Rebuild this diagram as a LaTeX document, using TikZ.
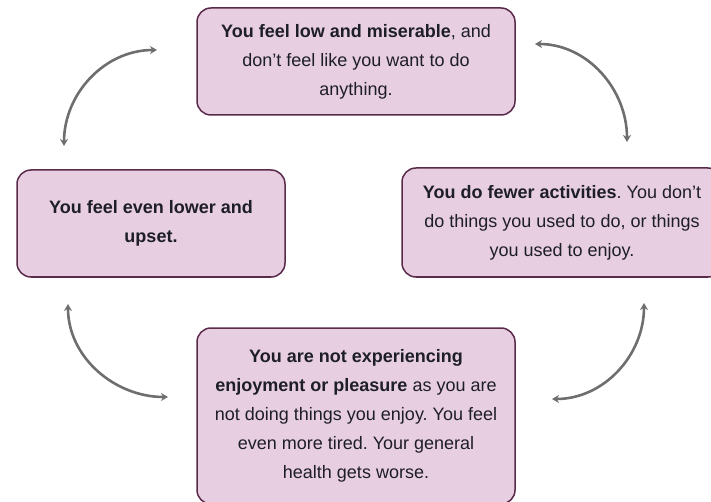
\documentclass[tikz,border=0pt]{standalone}
\usepackage{fontspec}
\setmainfont{Liberation Sans}
\usetikzlibrary{arrows.meta}
\definecolor{boxfill}{HTML}{E7CEE1}
\definecolor{boxline}{HTML}{5A2A4A}
\definecolor{arrowgray}{HTML}{6E6E6E}
\definecolor{ink}{HTML}{1E1E28}
\frenchspacing
\begin{document}
\begin{tikzpicture}[x=1pt,y=-1pt,
  stage/.style={draw=boxline, fill=boxfill, line width=1.5pt, rounded corners=14pt,
    inner sep=0pt, align=center, text=ink,
    font={\fontsize{18}{29}\selectfont}},
  cycle/.style={draw=arrowgray, line width=2.6pt,
    {Stealth[length=7pt,width=8pt]}-{Stealth[length=7pt,width=8pt]}}]
  \useasboundingbox (0,0) rectangle (711,502);
  \clip (0,0) rectangle (711,502);

  % the four stages
  \node[stage, minimum width=318pt, minimum height=107pt] (low) at (356,61.5)
    {\textbf{You feel low and miserable}, and\\don’t feel like you want to do\\anything.};
  \node[stage, minimum width=320pt, minimum height=109pt] (fewer) at (562,222.5)
    {\textbf{You do fewer activities}. You don’t\\do things you used to do, or things\\you used to enjoy.};
  \node[stage, minimum width=318pt, minimum height=176pt] (enjoy) at (356,416)
    {\textbf{You are not experiencing}\\\textbf{enjoyment or pleasure} as you are\\not doing things you enjoy. You feel\\even more tired. Your general\\health gets worse.};
  \node[stage, minimum width=268pt, minimum height=107pt] (lower) at (151,223.5)
    {\textbf{You feel even lower and}\\\textbf{upset.}};

  % end points of the curved arrows between the stages
  \coordinate (tlA) at (157,50);
  \coordinate (tlB) at (64,146);
  \coordinate (trA) at (535,44);
  \coordinate (trB) at (627,142);
  \coordinate (brA) at (644,303);
  \coordinate (brB) at (552,399);
  \coordinate (blA) at (168,397);
  \coordinate (blB) at (68,304);

  \draw[cycle] (tlB) to[out=90,in=180] (tlA);
  \draw[cycle] (trA) to[out=0,in=90] (trB);
  \draw[cycle] (brA) to[out=-90,in=0] (brB);
  \draw[cycle] (blA) to[out=180,in=-90] (blB);
\end{tikzpicture}
\end{document}
